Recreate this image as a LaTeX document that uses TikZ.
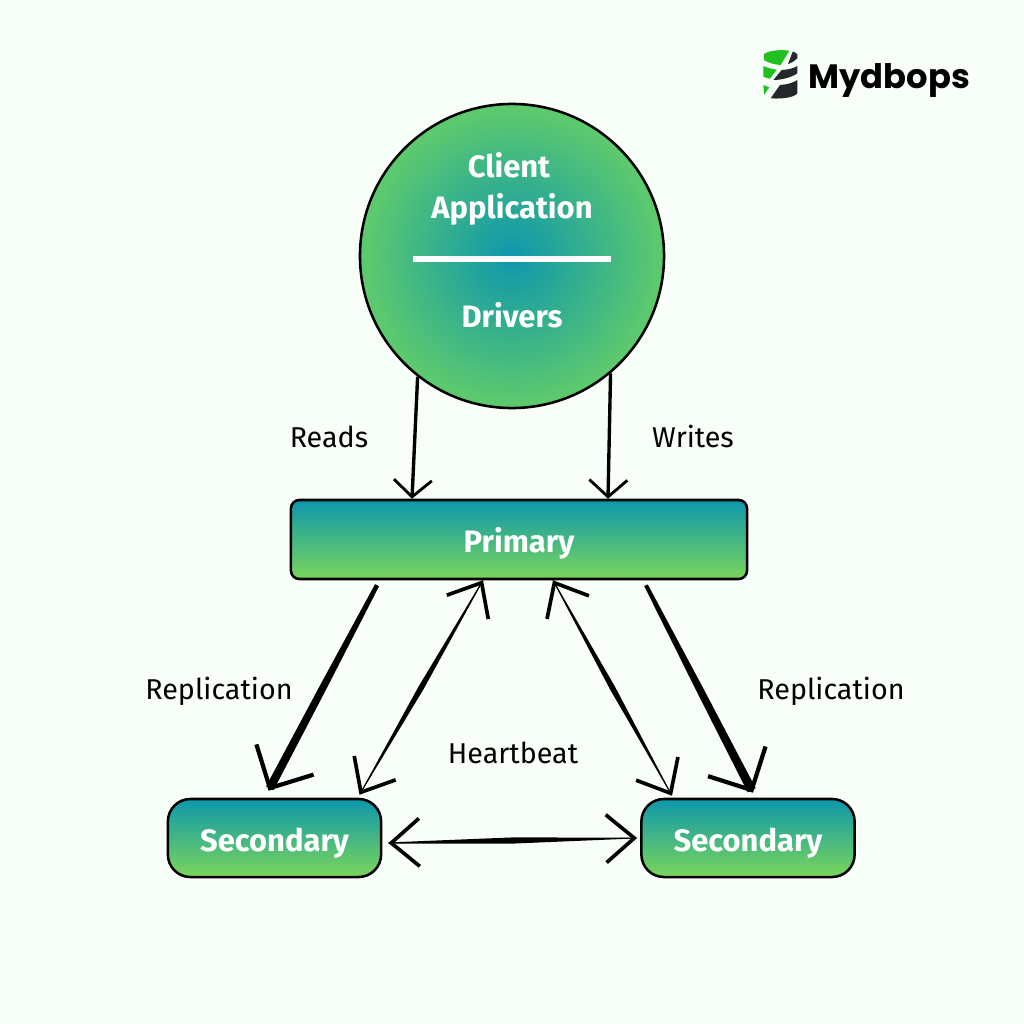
\documentclass[tikz,border=0pt]{standalone}
\usepackage{fontspec}
\setmainfont{Fira Sans}
\newfontfamily\logofont{Poppins}
\usepackage{xcolor}
\usepackage{tikz}
\usetikzlibrary{arrows.meta, calc}
\definecolor{pagebg}{HTML}{F8FFF8}
\definecolor{tealtop}{HTML}{0E97AC}
\definecolor{greenlow}{HTML}{7AD65A}
\definecolor{greenedge}{HTML}{5CC96E}
\definecolor{logogreen}{HTML}{22C01E}
\definecolor{logodark}{HTML}{24282A}
\pgfdeclareradialshading{clientglow}{\pgfpoint{0bp}{0bp}}{color(0bp)=(tealtop); color(11bp)=(tealtop!55!greenedge); color(24bp)=(greenedge); color(50bp)=(greenedge)}
\tikzset{
  box/.style={draw=black, line width=1.8pt, top color=tealtop, bottom color=greenlow, text=white, text height=18.5pt, text depth=0pt, font=\bfseries\fontsize{22}{26}\selectfont},
  boldtext/.style={anchor=base, text=white, font=\bfseries\fontsize{22}{26}\selectfont},
  label/.style={anchor=base, text=black, font=\fontsize{20.4}{24}\selectfont},
  thinarrow/.style={line width=2.4pt, -{Straight Barb[length=12pt, width=27pt, line width=2pt]}},
  fatarrow/.style={line width=1pt, -{Straight Barb[length=23pt, width=46pt, line width=3pt]}},
  beatarrow/.style={line width=.5pt, {Straight Barb[length=20pt, width=34pt, line width=2.6pt]}-{Straight Barb[length=20pt, width=34pt, line width=2.6pt]}}
}
% shaft of varying width: ends, then half widths at start, middle, end
\newcommand{\brush}[5]{\fill ($(#1)!#3!90:(#2)$) -- ($(#1)!.5!(#2)!#4!90:(#2)$) -- ($(#2)!2pt!(#1)!#5!-90:(#1)$) -- ($(#2)!2pt!(#1)!#5!90:(#1)$) -- ($(#1)!.5!(#2)!#4!-90:(#2)$) -- ($(#1)!#3!-90:(#2)$) -- cycle;}

\begin{document}
\begin{tikzpicture}[x=.025cm, y=-.025cm]
  \fill[pagebg] (0,0) rectangle (1024,1024);
  \useasboundingbox (0,0) rectangle (1024,1024);

  % logo
  \begin{scope}[shift={(740,30)}, x=.025cm/3, y=-.025cm/3]
    \fill[logogreen] (72,72) .. controls (85,62) and (120,58) .. (148,62) -- (122,105) .. controls (105,104) and (82,98) .. (72,90) -- cycle;
    \fill[logodark] (158,65) .. controls (165,67) and (170,69) .. (172,73) -- (172,85) .. controls (165,93) and (155,98) .. (144,102) -- cycle;
    \fill[logogreen] (70,108) .. controls (80,113) and (95,117) .. (110,119) -- (90,146) .. controls (82,145) and (76,143) .. (70,140) -- cycle;
    \fill[logodark] (172,108) -- (172,130) .. controls (155,142) and (125,150) .. (100,150) -- (125,120) .. controls (145,119) and (160,115) .. (172,108) -- cycle;
    \fill[logogreen] (70,165) -- (88,172) -- (72,195) -- cycle;
    \fill[logodark] (172,150) -- (172,190) .. controls (165,200) and (135,208) .. (92,205) -- (120,165) .. controls (140,164) and (160,158) .. (172,150) -- cycle;
    \node[anchor=base west, inner sep=0pt, text=black, font=\logofont\bfseries\fontsize{24}{28}\selectfont] (logotext) at (205,175) {Mydbops};
  \end{scope}

  % nodes
  \node[circle, draw=black, line width=1.8pt, shading=clientglow, minimum size=7.6cm] (client) at (512,256) {};
  \node[boldtext] (clientname) at (509,178) {Client};
  \node[boldtext] (clientapp) at (512,219) {Application};
  \node[boldtext] (drivers) at (512,327) {Drivers};
  \draw[white, line width=3.6pt] (413,259) -- (611,259);

  \node[box, rounded corners=6pt, minimum width=11.4cm, minimum height=1.975cm] (primary) at (519,539.5) {Primary};
  \node[box, rounded corners=16pt, minimum width=5.33cm, minimum height=1.95cm] (secleft) at (274.5,838) {Secondary};
  \node[box, rounded corners=16pt, minimum width=5.33cm, minimum height=1.95cm] (secright) at (748,838) {Secondary};

  % labels
  \node[label] (reads) at (329,447.5) {Reads};
  \node[label] (writes) at (693,447.5) {Writes};
  \node[label] (repleft) at (219,699.5) {Replication};
  \node[label] (repright) at (831,699.5) {Replication};
  \node[label] (heartbeat) at (513,763.5) {Heartbeat};

  % ends of the connectors
  \coordinate (readend) at ($(primary.north)+(-107,0)$);
  \coordinate (writeend) at ($(primary.north)+(89,0)$);
  \coordinate (repLtop) at ($(primary.south)+(-142,5)$);
  \coordinate (repLend) at ($(secleft.north)+(-6,-7)$);
  \coordinate (repRtop) at ($(primary.south)+(127,5)$);
  \coordinate (repRend) at ($(secright.north)+(5,-5)$);
  \coordinate (beatLtop) at ($(primary.south)+(-36,0)$);
  \coordinate (beatLend) at ($(secleft.north)+(85,-3)$);
  \coordinate (beatRtop) at ($(primary.south)+(34,0)$);
  \coordinate (beatRend) at ($(secright.north)+(-76,-2)$);
  \coordinate (beatAleft) at ($(secleft.east)+(6,5)$);
  \coordinate (beatAright) at ($(secright.west)+(-3,0)$);

  % connectors
  \draw[thinarrow] (client.232) -- (readend);
  \draw[thinarrow] (client.310) -- (writeend);

  \draw[fatarrow] (repLtop) -- (repLend);
  \brush{repLtop}{repLend}{1.6pt}{2.6pt}{3pt}
  \draw[fatarrow] (repRtop) -- (repRend);
  \brush{repRtop}{repRend}{1.4pt}{2.6pt}{3.2pt}

  \draw[beatarrow] (beatLtop) -- (beatLend);
  \brush{beatLtop}{beatLend}{.3pt}{2pt}{.3pt}
  \draw[beatarrow] (beatRtop) -- (beatRend);
  \brush{beatRtop}{beatRend}{.3pt}{2pt}{.3pt}
  \draw[beatarrow] (beatAleft) -- (beatAright);
  \brush{beatAleft}{beatAright}{.4pt}{2.2pt}{.3pt}
\end{tikzpicture}
\end{document}
